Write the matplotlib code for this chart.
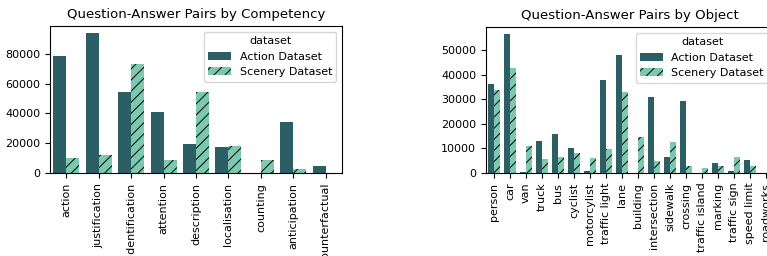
import numpy as np
import matplotlib.pyplot as plt

competencies = ['action', 'justification', 'identification', 'attention', 'description',
                'localisation', 'counting', 'anticipation', 'counterfactual']
comp_action = [78400, 94100, 54200, 41000, 19700, 17500, 0, 34000, 4900]
comp_scenery = [10100, 12300, 73500, 8500, 54200, 17900, 9000, 2700, 0]

objects = ['person', 'car', 'van', 'truck', 'bus', 'cyclist', 'motorcylist', 'traffic light',
           'lane', 'building', 'intersection', 'sidewalk', 'crossing', 'traffic island',
           'marking', 'traffic sign', 'speed limit', 'roadworks']
obj_action = [36300, 56500, 300, 12800, 15700, 10100, 900, 37900, 48000, 0, 31000, 6700,
              29300, 0, 3900, 700, 5400, 0]
obj_scenery = [33900, 42700, 11000, 5800, 6500, 8300, 6000, 9800, 33000, 14500, 4800, 12600,
               2700, 2200, 2700, 6600, 2700, 0]

dark = '#2c5f65'
light = '#7dc9b0'
plt.rcParams['hatch.linewidth'] = 0.7

fig = plt.figure(figsize=(7.67, 2.56), dpi=100)
ax1 = fig.add_axes([50 / 767, 83 / 256, 292 / 767, 147 / 256])
ax2 = fig.add_axes([486 / 767, 83 / 256, 288 / 767, 146 / 256])


def draw(ax, cats, a, s, title):
    x = np.arange(len(cats))
    ax.bar(x - 0.2, a, 0.4, color=dark, label='Action Dataset')
    ax.bar(x + 0.2, s, 0.4, color=light, edgecolor='black', linewidth=0, hatch='///',
           label='Scenery Dataset')
    ax.set_xlim(-0.5, len(cats) - 0.5)
    ax.set_xticks(x)
    ax.set_xticklabels(cats, rotation=90, fontsize=8)
    ax.tick_params(axis='y', labelsize=8)
    ax.set_title(title, fontsize=9.5)
    ax.legend(title='dataset', fontsize=8, title_fontsize=8, loc='upper right')


draw(ax1, competencies, comp_action, comp_scenery, 'Question-Answer Pairs by Competency')
draw(ax2, objects, obj_action, obj_scenery, 'Question-Answer Pairs by Object')

fig.savefig('out.png', dpi=100)
